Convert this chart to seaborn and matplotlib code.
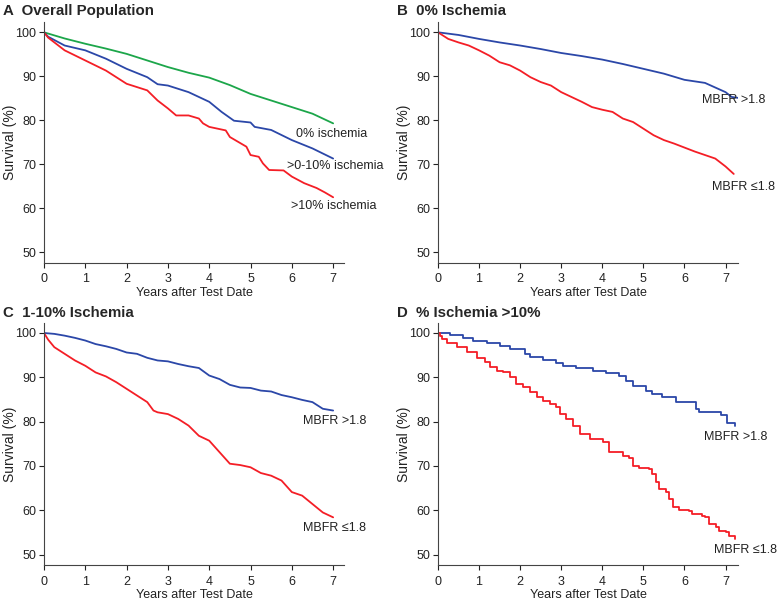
import matplotlib
matplotlib.use("Agg")
import matplotlib.pyplot as plt
import numpy as np
import pandas as pd
import seaborn as sns

# ---- data (years, survival %)

# A: overall population
a_t_green = [0, 0.5, 1, 1.5, 2, 2.5, 3, 3.5, 4, 4.5, 5, 5.5, 6, 6.5, 7]
a_s_green = [100, 98.6, 97.4, 96.3, 95.1, 93.6, 92.1, 90.8, 89.7, 88.0, 86.0, 84.5, 83.0, 81.5, 79.3]

a_t_blue = [0, 0.1, 0.5, 1, 1.5, 2, 2.5, 2.75, 3, 3.5, 4, 4.3, 4.6, 5, 5.1, 5.5, 6, 6.5, 7]
a_s_blue = [100, 99.0, 97.0, 95.9, 94.0, 91.7, 89.8, 88.2, 87.9, 86.4, 84.2, 81.9, 79.9, 79.5, 78.5, 77.8, 75.5, 73.6, 71.3]

a_t_red = [0, 0.1, 0.5, 1, 1.5, 2, 2.5, 2.75, 3, 3.2, 3.5, 3.75, 3.85, 4, 4.4, 4.5, 4.7,
           4.9, 5, 5.2, 5.3, 5.45, 5.8, 6, 6.3, 6.6, 6.8, 7]
a_s_red = [100, 98.8, 95.9, 93.6, 91.3, 88.3, 86.8, 84.5, 82.7, 81.1, 81.1, 80.4, 79.3, 78.5, 77.7, 76.2, 75.1,
           74.0, 72.1, 71.7, 70.2, 68.7, 68.6, 67.2, 65.7, 64.6, 63.6, 62.5]

# B: 0% ischemia
b_t_hi = [0, 0.5, 1, 1.5, 2, 2.5, 3, 3.5, 4, 4.5, 5, 5.5, 6, 6.5, 7, 7.15, 7.3]
b_s_hi = [100, 99.4, 98.5, 97.7, 97.0, 96.2, 95.3, 94.6, 93.8, 92.8, 91.7, 90.6, 89.2, 88.5, 86.4, 85.3, 85.1]

b_t_lo = [0, 0.25, 0.5, 0.75, 1, 1.25, 1.5, 1.75, 2, 2.25, 2.5, 2.75, 3, 3.25, 3.5, 3.75, 4,
          4.25, 4.5, 4.75, 5, 5.25, 5.5, 5.75, 6, 6.25, 6.5, 6.75, 7, 7.2]
b_s_lo = [100, 98.5, 97.7, 97.0, 95.9, 94.7, 93.2, 92.5, 91.3, 89.8, 88.7, 87.9, 86.4, 85.3, 84.2, 83.0, 82.4,
          81.9, 80.4, 79.6, 78.1, 76.6, 75.5, 74.7, 73.8, 72.9, 72.1, 71.3, 69.5, 67.8]

# C: 1-10% ischemia
c_t_hi = [0, 0.25, 0.5, 0.75, 1, 1.25, 1.5, 1.75, 2, 2.25, 2.5, 2.75, 3, 3.25, 3.5, 3.75, 4,
          4.25, 4.5, 4.75, 5, 5.25, 5.5, 5.75, 6, 6.25, 6.5, 6.75, 7]
c_s_hi = [100, 99.8, 99.4, 98.9, 98.3, 97.5, 97.0, 96.4, 95.6, 95.3, 94.4, 93.8, 93.6, 93.0, 92.5, 92.1, 90.4,
          89.6, 88.3, 87.7, 87.6, 87.0, 86.8, 86.0, 85.5, 84.9, 84.4, 82.9, 82.5]

c_t_lo = [0, 0.1, 0.25, 0.5, 0.75, 1, 1.25, 1.5, 1.75, 2, 2.25, 2.5, 2.65, 2.75, 3, 3.25, 3.5, 3.75, 4,
          4.25, 4.5, 4.75, 5, 5.25, 5.5, 5.75, 6, 6.25, 6.5, 6.75, 7]
c_s_lo = [100, 98.5, 96.8, 95.3, 93.8, 92.6, 91.1, 90.2, 88.9, 87.4, 85.9, 84.4, 82.5, 82.1, 81.7, 80.6, 79.1, 76.8, 75.7,
          73.1, 70.5, 70.2, 69.7, 68.4, 67.8, 66.7, 64.1, 63.3, 61.4, 59.5, 58.4]

# D: ischemia >10%
d_t_hi = [0, 0.30, 0.60, 0.86, 1.19, 1.51, 1.75, 2.11, 2.24, 2.56, 2.88, 3.04, 3.37, 3.77, 4.09, 4.41, 4.58,
          4.74, 5.06, 5.22, 5.46, 5.79, 6.27, 6.35, 6.88, 7.04, 7.24]
d_s_hi = [100, 99.6, 98.8, 98.3, 97.7, 97.1, 96.5, 95.3, 94.5, 93.9, 93.2, 92.6, 92.1, 91.5, 90.9, 90.2, 89.2,
          88.1, 86.8, 86.2, 85.5, 84.4, 82.9, 82.1, 81.4, 79.7, 78.9]

d_t_lo = [0, 0.05, 0.10, 0.22, 0.46, 0.70, 0.94, 1.15, 1.27, 1.43, 1.59, 1.75, 1.91, 2.07, 2.24, 2.40, 2.56,
          2.72, 2.88, 2.96, 3.12, 3.28, 3.45, 3.69, 4.01, 4.17, 4.50, 4.66, 4.74, 4.90, 5.14, 5.22, 5.30,
          5.38, 5.54, 5.63, 5.71, 5.87, 6.11, 6.19, 6.43, 6.51, 6.59, 6.76, 6.84, 7.00, 7.08, 7.24]
d_s_lo = [100, 99.4, 98.6, 97.7, 96.8, 95.6, 94.3, 93.4, 92.3, 91.5, 91.1, 90.0, 88.6, 87.7, 86.6, 85.6, 84.7,
          84.0, 83.2, 81.7, 80.6, 79.1, 77.2, 76.1, 75.3, 73.1, 72.3, 71.9, 70.0, 69.5, 69.3, 68.2, 66.3,
          64.8, 64.1, 62.6, 60.7, 60.1, 59.9, 59.2, 58.8, 58.4, 56.9, 56.2, 55.4, 55.0, 54.3, 53.5]

titles = ["A  Overall Population", "B  0% Ischemia", "C  1-10% Ischemia", "D  % Ischemia >10%"]
green, blue, red = "#1ca64a", "#2b47a8", "#f41e26"

sns.set_style("ticks")
plt.rcParams['font.family'] = ['Liberation Sans', 'DejaVu Sans']

fig = plt.figure(figsize=(7.8, 6), dpi=100)

# [left, bottom, width, height] in figure fraction
boxes = [[0.0564, 0.562, 0.385, 0.401],
         [0.5615, 0.562, 0.385, 0.401],
         [0.0564, 0.058, 0.385, 0.404],
         [0.5615, 0.058, 0.385, 0.404]]
axs = [fig.add_axes(b) for b in boxes]

panels = [
    [(a_t_green, a_s_green, green, "0% ischemia", 6.1, 76.8),
     (a_t_blue, a_s_blue, blue, ">0-10% ischemia", 5.88, 69.5),
     (a_t_red, a_s_red, red, ">10% ischemia", 5.98, 60.4)],
    [(b_t_hi, b_s_hi, blue, "MBFR >1.8", 6.43, 84.5),
     (b_t_lo, b_s_lo, red, "MBFR \u22641.8", 6.68, 64.9)],
    [(c_t_hi, c_s_hi, blue, "MBFR >1.8", 6.27, 80.1),
     (c_t_lo, c_s_lo, red, "MBFR \u22641.8", 6.27, 56.0)],
    [(d_t_hi, d_s_hi, blue, "MBFR >1.8", 6.47, 76.5),
     (d_t_lo, d_s_lo, red, "MBFR \u22641.8", 6.72, 51.0)],
]

for i, (ax, curves) in enumerate(zip(axs, panels)):
    steps = "steps-post" if i == 3 else "default"
    for t, s, col, lab, lx, ly in curves:
        df = pd.DataFrame({"t": t, "s": s})
        sns.lineplot(data=df, x="t", y="s", color=col, linewidth=1.3, drawstyle=steps,
                     ax=ax, estimator=None, sort=False)
        ax.text(lx, ly, lab, fontsize=9, va="center", ha="left", color="#222222")
    xmax = 7.27 if i in (0, 2) else 7.31
    ax.set_xlim(0, xmax)
    ax.set_ylim(47.6, 102.3)
    ax.set_xticks(range(8))
    ax.set_yticks([50, 60, 70, 80, 90, 100])
    ax.tick_params(labelsize=9, length=3.5, width=0.8, colors="#222222", pad=2)
    ax.tick_params(axis="x", pad=4)
    for sp in ["left", "bottom"]:
        ax.spines[sp].set_linewidth(0.8)
        ax.spines[sp].set_color("#444444")
    sns.despine(ax=ax)
    ax.set_xlabel("Years after Test Date", fontsize=9, labelpad=1, color="#222222")
    ax.set_ylabel("Survival (%)", fontsize=10, labelpad=-1, color="#222222")

# panel titles
fig.text(0.004, 0.982, titles[0], fontsize=10.8, fontweight="bold", va="center", ha="left")
fig.text(0.509, 0.982, titles[1], fontsize=10.8, fontweight="bold", va="center", ha="left")
fig.text(0.004, 0.478, titles[2], fontsize=10.8, fontweight="bold", va="center", ha="left")
fig.text(0.509, 0.478, titles[3], fontsize=10.8, fontweight="bold", va="center", ha="left")

fig.savefig("out.png", dpi=100)
